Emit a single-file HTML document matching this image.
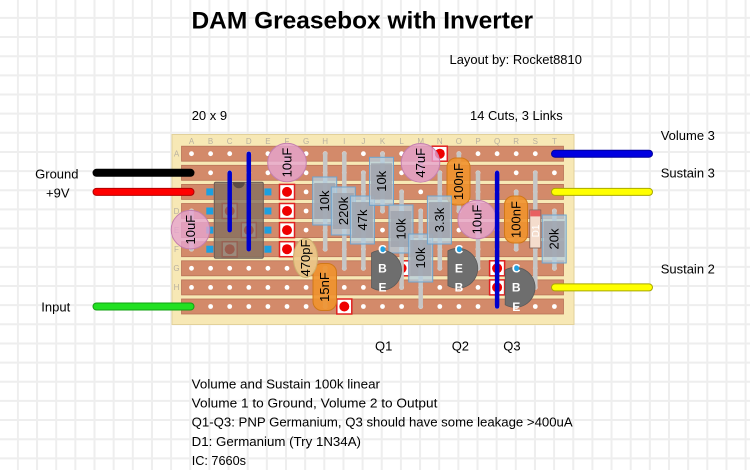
<!DOCTYPE html>
<html><head><meta charset="utf-8"><style>
html,body{margin:0;padding:0;background:#fff;width:750px;height:470px;overflow:hidden}
svg{display:block}
text{font-family:"Liberation Sans",sans-serif}
</style></head><body>
<svg width="750" height="470" viewBox="0 0 750 470" xmlns="http://www.w3.org/2000/svg">
<rect width="750" height="470" fill="#fff"/>
<path stroke="#eeeeee" stroke-width="2" fill="none" d="M17.9 0V470M37.05 0V470M56.2 0V470M75.35 0V470M94.5 0V470M113.65 0V470M132.8 0V470M151.95 0V470M171.1 0V470M190.25 0V470M209.4 0V470M228.55 0V470M247.7 0V470M266.85 0V470M286 0V470M305.15 0V470M324.3 0V470M343.45 0V470M362.6 0V470M381.75 0V470M400.9 0V470M420.05 0V470M439.2 0V470M458.35 0V470M477.5 0V470M496.65 0V470M515.8 0V470M534.95 0V470M554.1 0V470M573.25 0V470M592.4 0V470M611.55 0V470M630.7 0V470M649.85 0V470M669 0V470M688.15 0V470M707.3 0V470M726.45 0V470M745.6 0V470
M0 17.9H750M0 37.05H750M0 56.2H750M0 75.35H750M0 94.5H750M0 113.65H750M0 132.8H750M0 151.95H750M0 171.1H750M0 190.25H750M0 209.4H750M0 228.55H750M0 247.7H750M0 266.85H750M0 286H750M0 305.15H750M0 324.3H750M0 343.45H750M0 362.6H750M0 381.75H750M0 400.9H750M0 420.05H750M0 439.2H750M0 458.35H750"/>

<!-- headings -->
<text x="191.5" y="28.3" font-size="24" font-weight="bold" fill="#000" textLength="341.6" lengthAdjust="spacingAndGlyphs">DAM Greasebox with Inverter</text>
<text x="449.5" y="64" font-size="13" fill="#000" textLength="132.4" lengthAdjust="spacingAndGlyphs">Layout by: Rocket8810</text>
<text x="191.7" y="120" font-size="13" fill="#000">20 x 9</text>
<text x="470" y="120" font-size="13" fill="#000" textLength="92.7" lengthAdjust="spacingAndGlyphs">14 Cuts, 3 Links</text>

<!-- board -->
<rect x="172" y="134.5" width="402" height="190" fill="#f7e8b5" stroke="#e2d19a" stroke-width="1"/>
<g font-size="8" fill="#b8b0a0" text-anchor="middle">
<text x="191.5" y="144">A</text><text x="210.6" y="144">B</text><text x="229.7" y="144">C</text><text x="248.8" y="144">D</text><text x="267.9" y="144">E</text><text x="287" y="144">F</text><text x="306.1" y="144">G</text><text x="325.2" y="144">H</text><text x="344.3" y="144">I</text><text x="363.4" y="144">J</text><text x="382.5" y="144">K</text><text x="401.6" y="144">L</text><text x="420.7" y="144">M</text><text x="439.8" y="144">N</text><text x="458.9" y="144">O</text><text x="478" y="144">P</text><text x="497.1" y="144">Q</text><text x="516.2" y="144">R</text><text x="535.3" y="144">S</text><text x="554.4" y="144">T</text>
<text x="176.5" y="156.5">A</text><text x="176.5" y="175.6">B</text><text x="176.5" y="194.7">C</text><text x="176.5" y="213.8">D</text><text x="176.5" y="232.9">E</text><text x="176.5" y="252">F</text><text x="176.5" y="271.1">G</text><text x="176.5" y="290.2">H</text><text x="176.5" y="309.3">I</text>
</g>
<g fill="#d38a6a" stroke="#b87257" stroke-width="0.8">
<rect x="181.5" y="146.2" width="382" height="15"/>
<rect x="181.5" y="165.3" width="382" height="15"/>
<rect x="181.5" y="184.4" width="382" height="15"/>
<rect x="181.5" y="203.5" width="382" height="15"/>
<rect x="181.5" y="222.6" width="382" height="15"/>
<rect x="181.5" y="241.7" width="382" height="15"/>
<rect x="181.5" y="260.8" width="382" height="15"/>
<rect x="181.5" y="279.9" width="382" height="15"/>
<rect x="181.5" y="299" width="382" height="15"/>
</g>
<!-- hole dots -->
<defs>
<g id="row">
<circle cx="191.5" cy="0" r="2.4"/><circle cx="210.6" cy="0" r="2.4"/><circle cx="229.7" cy="0" r="2.4"/><circle cx="248.8" cy="0" r="2.4"/><circle cx="267.9" cy="0" r="2.4"/><circle cx="287" cy="0" r="2.4"/><circle cx="306.1" cy="0" r="2.4"/><circle cx="325.2" cy="0" r="2.4"/><circle cx="344.3" cy="0" r="2.4"/><circle cx="363.4" cy="0" r="2.4"/><circle cx="382.5" cy="0" r="2.4"/><circle cx="401.6" cy="0" r="2.4"/><circle cx="420.7" cy="0" r="2.4"/><circle cx="439.8" cy="0" r="2.4"/><circle cx="458.9" cy="0" r="2.4"/><circle cx="478" cy="0" r="2.4"/><circle cx="497.1" cy="0" r="2.4"/><circle cx="516.2" cy="0" r="2.4"/><circle cx="535.3" cy="0" r="2.4"/><circle cx="554.4" cy="0" r="2.4"/>
</g>
<g id="cut"><rect x="-7.5" y="-7.5" width="15" height="15" fill="#fff" stroke="#e02020" stroke-width="1.5"/><circle r="5" fill="#ee0000"/></g>
</defs>
<g fill="#fff">
<use href="#row" y="153.7"/><use href="#row" y="172.8"/><use href="#row" y="191.9"/><use href="#row" y="211"/><use href="#row" y="230.1"/><use href="#row" y="249.2"/><use href="#row" y="268.3"/><use href="#row" y="287.4"/><use href="#row" y="306.5"/>
</g>

<!-- cuts -->
<use href="#cut" x="229.7" y="211"/><use href="#cut" x="248.8" y="230.1"/><use href="#cut" x="229.7" y="249.2"/>
<use href="#cut" x="287" y="191.9"/><use href="#cut" x="287" y="211"/><use href="#cut" x="287" y="230.1"/><use href="#cut" x="287" y="249.2"/>
<use href="#cut" x="439.8" y="153.7"/><use href="#cut" x="401.6" y="268.3"/>
<use href="#cut" x="497.1" y="268.3"/><use href="#cut" x="497.1" y="287.4"/>
<use href="#cut" x="344.3" y="306.5"/>

<!-- leads -->
<g stroke="#c6c6c6" stroke-width="4.5" stroke-linecap="round">
<line x1="191.5" y1="211" x2="191.5" y2="249.2"/>
<line x1="287" y1="153.7" x2="287" y2="172.8"/>
<line x1="420.7" y1="153.7" x2="420.7" y2="172.8"/>
<line x1="478" y1="172.8" x2="478" y2="268.3"/>
<line x1="458.9" y1="153.7" x2="458.9" y2="211"/>
<line x1="516.2" y1="191.9" x2="516.2" y2="249.2"/>
<line x1="535.3" y1="172.8" x2="535.3" y2="287.4"/>
<line x1="554.4" y1="211" x2="554.4" y2="268.3"/>
<line x1="306.1" y1="249.2" x2="306.1" y2="268.3"/>
<line x1="325.2" y1="268.3" x2="325.2" y2="306.5"/>
<line x1="325.2" y1="153.7" x2="325.2" y2="249.2"/>
<line x1="344.3" y1="153.7" x2="344.3" y2="268.3"/>
<line x1="363.4" y1="172.8" x2="363.4" y2="268.3"/>
<line x1="382.5" y1="153.7" x2="382.5" y2="211"/>
<line x1="401.6" y1="191.9" x2="401.6" y2="287.4"/>
<line x1="420.7" y1="211" x2="420.7" y2="306.5"/>
<line x1="439.8" y1="172.8" x2="439.8" y2="268.3"/>
</g>

<!-- IC -->
<rect x="214.3" y="182.3" width="49" height="76" fill="#86705f" fill-opacity="0.82" stroke="#6b5d55" stroke-width="1" rx="1.5"/>
<path d="M232.8 182.3 A6 6 0 0 0 244.8 182.3 Z" fill="#5c4c44"/>
<g fill="#1ca0e0">
<rect x="206.3" y="188.4" width="7" height="7"/><rect x="206.3" y="207.5" width="7" height="7"/><rect x="206.3" y="226.6" width="7" height="7"/><rect x="206.3" y="245.7" width="7" height="7"/>
<rect x="264.4" y="188.4" width="7" height="7"/><rect x="264.4" y="207.5" width="7" height="7"/><rect x="264.4" y="226.6" width="7" height="7"/><rect x="264.4" y="245.7" width="7" height="7"/>
</g>

<!-- electrolytic caps -->
<g fill="#e6a4cf" fill-opacity="0.8" stroke="#c47fae" stroke-width="1">
<circle cx="190.5" cy="229.7" r="19.3"/>
<circle cx="287" cy="162.5" r="19.3"/>
<circle cx="420.5" cy="162.8" r="19.3"/>
</g>
<g font-size="13" fill="#000" text-anchor="middle">
<text transform="translate(190.5 229.7) rotate(-90)" dy="4.5">10uF</text>
<text transform="translate(287 162.5) rotate(-90)" dy="4.5">10uF</text>
<text transform="translate(420.5 162.8) rotate(-90)" dy="4.5">47uF</text>
</g>

<!-- film caps -->
<g fill="#f0922e" fill-opacity="0.9" stroke="#d07818" stroke-width="1">
<rect x="447" y="158" width="23" height="47" rx="9"/>
<rect x="504.5" y="196" width="23" height="47" rx="9"/>
<rect x="313" y="263.5" width="23.5" height="47" rx="9"/>
</g>
<ellipse cx="305.5" cy="258" rx="12" ry="19.5" fill="#ecc98a" fill-opacity="0.9" stroke="#cdb070"/>
<g font-size="13" fill="#000" text-anchor="middle">
<text transform="translate(458.5 181.5) rotate(-90)" dy="4.5">100nF</text>
<text transform="translate(516 219.5) rotate(-90)" dy="4.5">100nF</text>
<text transform="translate(324.7 287) rotate(-90)" dy="4.5">15nF</text>
<text transform="translate(305.5 258) rotate(-90)" dy="4.5">470pF</text>
</g>

<!-- 10uF at P (over 100nF) -->
<circle cx="477.2" cy="219.5" r="19.3" fill="#e6a4cf" fill-opacity="0.8" stroke="#c47fae"/>
<text transform="translate(477.2 219.5) rotate(-90)" dy="4.5" font-size="13" text-anchor="middle">10uF</text>

<!-- resistors -->
<defs>
<g id="res">
<rect x="-12" y="-24" width="24" height="48" fill="#b4cfe0" fill-opacity="0.75" stroke="#6fa3cc" stroke-width="1"/>
<rect x="-10.5" y="-18" width="21" height="36" fill="#a0a4ae" fill-opacity="0.85"/>
</g>
</defs>
<use href="#res" x="324.7" y="201"/>
<use href="#res" x="343.3" y="211"/>
<use href="#res" x="362.4" y="220"/>
<use href="#res" x="381.5" y="181.3"/>
<use href="#res" x="401" y="229"/>
<g font-size="13" fill="#000" text-anchor="middle">
<text transform="translate(324.7 201) rotate(-90)" dy="4.5">10k</text>
<text transform="translate(343.3 211) rotate(-90)" dy="4.5">220k</text>
<text transform="translate(362.4 220) rotate(-90)" dy="4.5">47k</text>
<text transform="translate(381.5 181.3) rotate(-90)" dy="4.5">10k</text>
<text transform="translate(401 229) rotate(-90)" dy="4.5">10k</text>
</g>

<!-- transistors -->
<g fill="#6e6e6e" stroke="#5a5a5a" stroke-width="0.8">
<path d="M371.5 252 A20 20 0 1 1 371.5 286.6 Z" transform="translate(0 1)"/>
<path d="M447.9 250.9 A20 20 0 1 1 447.9 285.7 Z"/>
<path d="M505.2 270 A20 20 0 1 1 505.2 304.8 Z"/>
</g>
<g fill="#20a0e0">
<circle cx="382.5" cy="249.2" r="3"/><circle cx="458.9" cy="249.2" r="3"/><circle cx="516.2" cy="268.3" r="3"/>
</g>
<g font-size="12" font-weight="bold" fill="#fff" text-anchor="middle">
<text x="382.5" y="253.5">C</text><text x="382.5" y="272.6">B</text><text x="382.5" y="291.7">E</text>
<text x="458.9" y="253.5">C</text><text x="458.9" y="272.6">E</text><text x="458.9" y="291.7">B</text>
<text x="516.2" y="272.6">C</text><text x="516.2" y="291.7">B</text><text x="516.2" y="310.8">E</text>
</g>

<use href="#res" x="420.7" y="258"/>
<use href="#res" x="439.4" y="220"/>
<use href="#res" x="554.2" y="239"/>
<g font-size="13" fill="#000" text-anchor="middle">
<text transform="translate(420.7 258) rotate(-90)" dy="4.5">10k</text>
<text transform="translate(439.4 220) rotate(-90)" dy="4.5">3.3k</text>
<text transform="translate(554.2 239) rotate(-90)" dy="4.5">20k</text>
</g>

<!-- diode -->
<rect x="529.8" y="210" width="11" height="38" fill="#f4dccc" stroke="#7a5a50" stroke-width="0.8"/>
<rect x="530.2" y="210.4" width="10.2" height="6" fill="#e86060"/>
<text transform="translate(535.3 231) rotate(-90)" dy="3.5" font-size="10" fill="#fff" text-anchor="middle">D1</text>

<!-- links -->
<g stroke="#0000cc" stroke-width="4.5" stroke-linecap="round">
<line x1="229.7" y1="172.8" x2="229.7" y2="230.1"/>
<line x1="248.8" y1="153.7" x2="248.8" y2="249.2"/>
<line x1="497.1" y1="172.8" x2="497.1" y2="306.5"/>
</g>

<!-- off-board wires -->
<g stroke-linecap="round">
<line x1="96.5" y1="172.8" x2="190.5" y2="172.8" stroke="#000" stroke-width="8"/>
<line x1="96.5" y1="191.9" x2="190.5" y2="191.9" stroke="#b00000" stroke-width="8"/>
<line x1="96.5" y1="191.9" x2="190.5" y2="191.9" stroke="#ff0000" stroke-width="6"/>
<line x1="96.5" y1="306.5" x2="190.5" y2="306.5" stroke="#12a012" stroke-width="8"/>
<line x1="96.5" y1="306.5" x2="190.5" y2="306.5" stroke="#22e022" stroke-width="6"/>
<line x1="555" y1="153.7" x2="649" y2="153.7" stroke="#000099" stroke-width="8"/>
<line x1="555" y1="153.7" x2="649" y2="153.7" stroke="#0000e0" stroke-width="6"/>
<line x1="555" y1="191.9" x2="649" y2="191.9" stroke="#a8a800" stroke-width="8"/>
<line x1="555" y1="191.9" x2="649" y2="191.9" stroke="#ffff00" stroke-width="6"/>
<line x1="555" y1="287.4" x2="649" y2="287.4" stroke="#a8a800" stroke-width="8"/>
<line x1="555" y1="287.4" x2="649" y2="287.4" stroke="#ffff00" stroke-width="6"/>
</g>

<!-- labels -->
<g font-size="13" fill="#000">
<text x="78.5" y="178.3" text-anchor="end">Ground</text>
<text x="46" y="197.3">+9V</text>
<text x="41.3" y="311.7">Input</text>
<text x="660.7" y="140">Volume 3</text>
<text x="660.7" y="177.7">Sustain 3</text>
<text x="660.7" y="273.3">Sustain 2</text>
<text x="375" y="350.7">Q1</text>
<text x="451.7" y="350.7">Q2</text>
<text x="503.3" y="350.7">Q3</text>
<text x="191.7" y="388.3" textLength="188.3" lengthAdjust="spacingAndGlyphs">Volume and Sustain 100k linear</text>
<text x="191.7" y="407.3" textLength="245.7" lengthAdjust="spacingAndGlyphs">Volume 1 to Ground, Volume 2 to Output</text>
<text x="191.7" y="426.7" textLength="381" lengthAdjust="spacingAndGlyphs">Q1-Q3: PNP Germanium, Q3 should have some leakage &gt;400uA</text>
<text x="191.7" y="446" textLength="169.3" lengthAdjust="spacingAndGlyphs">D1: Germanium (Try 1N34A)</text>
<text x="191.7" y="465" textLength="54.3" lengthAdjust="spacingAndGlyphs">IC: 7660s</text>
</g>
</svg>
</body></html>
